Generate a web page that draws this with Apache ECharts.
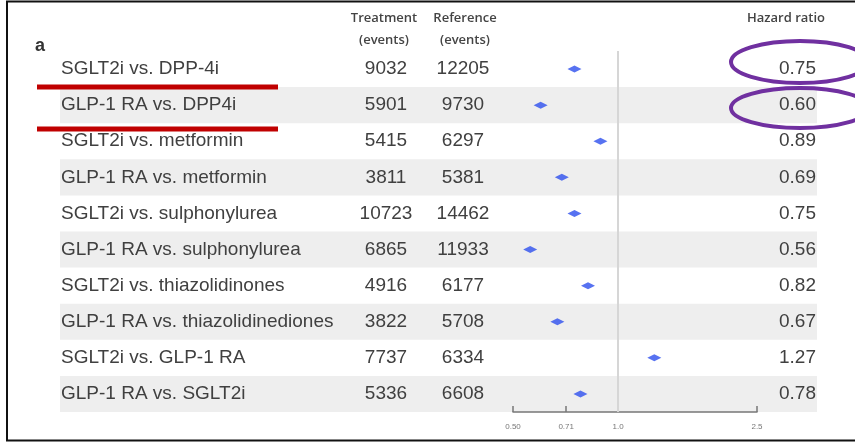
<!DOCTYPE html>
<html>
<head>
<meta charset="utf-8">
<script src="https://cdn.jsdelivr.net/npm/echarts@6/dist/echarts.min.js"></script>
<style>
  html, body { margin: 0; padding: 0; background: #fff; }
  #chart { width: 855px; height: 443px; }
</style>
</head>
<body>
<div id="chart"></div>
<script>
// Comparisons (treatment vs. reference)
const comparisons = [
  'SGLT2i vs. DPP-4i',
  'GLP-1 RA vs. DPP4i',
  'SGLT2i vs. metformin',
  'GLP-1 RA vs. metformin',
  'SGLT2i vs. sulphonylurea',
  'GLP-1 RA vs. sulphonylurea',
  'SGLT2i vs. thiazolidinones',
  'GLP-1 RA vs. thiazolidinediones',
  'SGLT2i vs. GLP-1 RA',
  'GLP-1 RA vs. SGLT2i'
];
const treatmentEvents = [9032, 5901, 5415, 3811, 10723, 6865, 4916, 3822, 7737, 5336];
const referenceEvents = [12205, 9730, 6297, 5381, 14462, 11933, 6177, 5708, 6334, 6608];
const hazardRatios = [0.75, 0.60, 0.89, 0.69, 0.75, 0.56, 0.82, 0.67, 1.27, 0.78];

// Log-scale axis ticks
const hrTickValues = [0.5, 0.71, 1.0, 2.5];
const hrTickLabels = ['0.50', '0.71', '1.0', '2.5'];

const TEXT = '#404040';
const FONT = 'Liberation Sans, Arial, sans-serif';
const HEAD_FONT = 'Open Sans, sans-serif';

function columnAxis(position, offset, inside, align, formatter) {
  return {
    gridIndex: 0,
    type: 'category',
    data: comparisons,
    inverse: true,
    position: position,
    offset: offset,
    axisLine: { show: false },
    axisTick: { show: false },
    splitLine: { show: false },
    axisLabel: {
      show: true,
      interval: 0,
      inside: inside,
      margin: inside ? 1 : 0,
      align: align,
      fontFamily: FONT,
      fontSize: 19,
      color: TEXT,
      formatter: formatter
    }
  };
}

function nearestTickLabel(v) {
  let best = 0;
  for (let i = 1; i < hrTickValues.length; i++) {
    if (Math.abs(hrTickValues[i] - v) < Math.abs(hrTickValues[best] - v)) best = i;
  }
  return hrTickLabels[best];
}

const chart = echarts.init(document.getElementById('chart'), null, { renderer: 'canvas' });

const option = {
  backgroundColor: '#fff',
  animation: false,
  grid: [
    // table rows (shaded bands + text columns)
    { left: 60, right: 38, top: 51, bottom: 31, containLabel: false, outerBoundsMode: 'none' },
    // forest plot panel
    { left: 513, right: 98, top: 51, bottom: 31, containLabel: false, outerBoundsMode: 'none' }
  ],
  xAxis: [
    { gridIndex: 0, type: 'value', min: 0, max: 1, show: false },
    {
      gridIndex: 1,
      type: 'log',
      logBase: 10,
      min: 0.5,
      max: 2.5,
      axisLine: { show: true, lineStyle: { color: '#777', width: 1.5 } },
      axisTick: {
        show: true,
        inside: true,
        length: 6,
        customValues: hrTickValues,
        lineStyle: { color: '#777', width: 1.5 }
      },
      splitLine: { show: false },
      minorTick: { show: false },
      axisLabel: {
        show: true,
        customValues: hrTickValues,
        margin: 11,
        fontFamily: FONT,
        fontSize: 8,
        color: '#777',
        formatter: function (v) { return nearestTickLabel(v); }
      }
    }
  ],
  yAxis: [
    // comparison names + alternating bands
    Object.assign(columnAxis('left', 0, true, 'left', null), {
      splitArea: { show: true, areaStyle: { color: ['rgba(255,255,255,0)', '#eeeeee'] } }
    }),
    // treatment events
    columnAxis('left', -326, false, 'center', function (v, i) { return String(treatmentEvents[i]); }),
    // reference events
    columnAxis('left', -403, false, 'center', function (v, i) { return String(referenceEvents[i]); }),
    // hazard ratio text
    columnAxis('right', 0, true, 'right', function (v, i) { return hazardRatios[i].toFixed(2); }),
    // forest plot rows
    { gridIndex: 1, type: 'category', data: comparisons, inverse: true, show: false }
  ],
  series: [
    {
      type: 'scatter',
      xAxisIndex: 1,
      yAxisIndex: 4,
      symbol: 'diamond',
      symbolSize: [14, 7],
      itemStyle: { color: '#2d4fee' },
      z: 5,
      data: hazardRatios.map(function (hr, i) { return [hr, comparisons[i]]; }),
      markLine: {
        silent: true,
        symbol: ['none', 'none'],
        label: { show: false },
        lineStyle: { color: '#d6d6d6', width: 2, type: 'solid' },
        data: [{ xAxis: 1 }]
      }
    }
  ],
  graphic: [
    // outer frame
    { type: 'rect', z: 50, shape: { x: 7, y: 1.5, width: 900, height: 439 },
      style: { fill: 'none', stroke: '#111', lineWidth: 2 } },
    // panel letter
    { type: 'text', z: 50, x: 40, y: 46,
      style: { text: 'a', font: 'bold 18px ' + FONT, fill: '#333', align: 'center', verticalAlign: 'middle' } },
    // column headers
    { type: 'text', z: 50, x: 384, y: 29,
      style: { text: 'Treatment\n(events)', font: '600 13px ' + HEAD_FONT, lineHeight: 22, fill: '#444', align: 'center', verticalAlign: 'middle' } },
    { type: 'text', z: 50, x: 465, y: 29,
      style: { text: 'Reference\n(events)', font: '600 13px ' + HEAD_FONT, lineHeight: 22, fill: '#444', align: 'center', verticalAlign: 'middle' } },
    { type: 'text', z: 50, x: 786, y: 18,
      style: { text: 'Hazard ratio', font: '600 13px ' + HEAD_FONT, fill: '#444', align: 'center', verticalAlign: 'middle' } },
    // red underlines
    { type: 'line', z: 60, shape: { x1: 37, y1: 87, x2: 278, y2: 87 },
      style: { stroke: '#c00000', lineWidth: 5 } },
    { type: 'line', z: 60, shape: { x1: 37, y1: 129, x2: 278, y2: 129 },
      style: { stroke: '#c00000', lineWidth: 5 } },
    // purple highlight ellipses
    { type: 'ellipse', z: 60, shape: { cx: 800, cy: 62, rx: 69, ry: 21 },
      style: { fill: 'none', stroke: '#7030a0', lineWidth: 4 } },
    { type: 'ellipse', z: 60, shape: { cx: 800, cy: 108, rx: 69, ry: 20 },
      style: { fill: 'none', stroke: '#7030a0', lineWidth: 4 } }
  ]
};

chart.setOption(option);
</script>
</body>
</html>
